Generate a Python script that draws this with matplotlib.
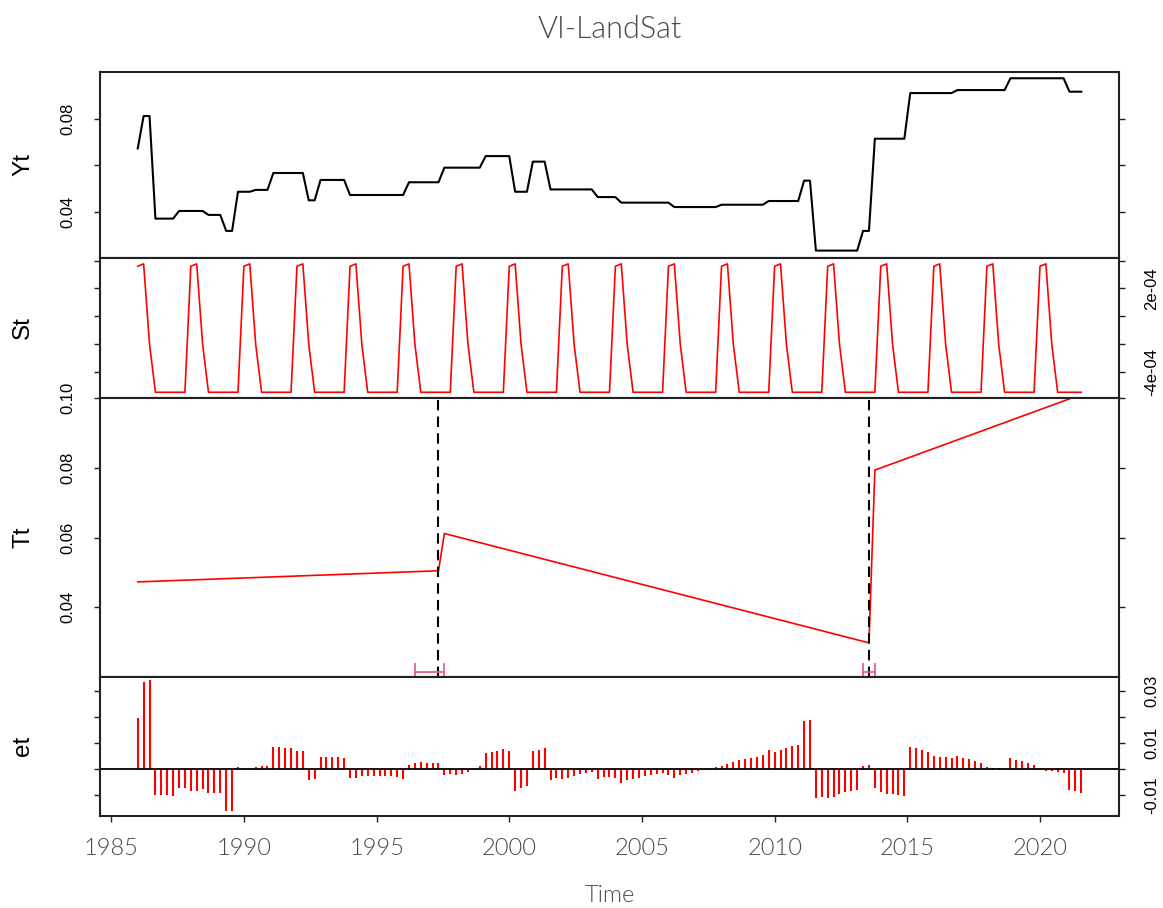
import numpy as np
import matplotlib.pyplot as plt

plt.rcParams['font.family'] = ['Liberation Sans', 'DejaVu Sans']

# regular time index: 9 observations every two years starting 1986
n_obs = 161
t_start = 1986.0
t_step = 2 / 9
time = t_start + t_step * np.arange(n_obs)

# observed series Yt, stored as step levels and their run lengths
yt_levels = [0.0673, 0.0813, 0.0370, 0.0403, 0.0386, 0.0317, 0.0486, 0.0494,
             0.0567, 0.0449, 0.0537, 0.0472, 0.0527, 0.0590, 0.0640, 0.0486,
             0.0616, 0.0496, 0.0463, 0.0439, 0.0420, 0.0430, 0.0446, 0.0534,
             0.0232, 0.0317, 0.0715, 0.0912, 0.0925, 0.0976, 0.0918]
yt_runs = [1, 2, 4, 5, 3, 2, 3, 3, 6, 2, 5, 10, 6, 7, 5, 3,
           3, 8, 4, 9, 8, 8, 6, 2, 8, 2, 6, 8, 9, 10, 3]
yt = np.repeat(yt_levels, yt_runs)

# seasonal component St: one cycle of 9 observations, repeated
st_cycle = [3.59e-4, 3.76e-4, -1.98e-4, -5.42e-4, -5.42e-4,
            -5.42e-4, -5.42e-4, -5.42e-4, -5.42e-4]
st = np.tile(st_cycle, 18)[:n_obs]

# trend Tt: end points of the fitted segments
tt_time = [1986.0, 1997.333, 1997.556, 2013.556, 2013.778, 2021.556]
tt_vals = [0.0473, 0.0505, 0.0612, 0.0298, 0.0794, 0.1011]

# detected breaks and their confidence intervals
breaks = [1997.333, 2013.556]
ci_low = [1996.444, 2013.333]
ci_high = [1997.556, 2013.778]

# remainder et
et = [0.0197, 0.0336, 0.0341, -0.0098, -0.0098, -0.0098, -0.0101, -0.0070, -0.0070,
      -0.0082, -0.0082, -0.0077, -0.0091, -0.0091, -0.0091, -0.0160, -0.0160,
      0.0010, -0.0003, -0.0003, 0.0010, 0.0011, 0.0011, 0.0084, 0.0084, 0.0083,
      0.0083, 0.0070, 0.0070, -0.0041, -0.0038, 0.0049, 0.0049, 0.0047, 0.0047,
      0.0045, -0.0032, -0.0032, -0.0026, -0.0024, -0.0026, -0.0026, -0.0027,
      -0.0027, -0.0028, -0.0038, 0.0018, 0.0024, 0.0028, 0.0026, 0.0026, 0.0026,
      -0.0022,
      -0.0017, -0.0020, -0.0019, -0.0009, 0.0006, 0.0011, 0.0064, 0.0068, 0.0072,
      0.0077, 0.0072, -0.0082, -0.0072, -0.0064, 0.0070, 0.0075, 0.0081, -0.0040,
      -0.0033, -0.0038, -0.0035, -0.0024, -0.0018, -0.0013, -0.0009, -0.0037,
      -0.0031, -0.0028, -0.0032, -0.0052, -0.0042, -0.0036, -0.0032, -0.0027,
      -0.0023, -0.0019, -0.0015, -0.0020, -0.0033, -0.0023, -0.0017, -0.0013,
      -0.0008, -0.0003, 0.0005, 0.0009, 0.0014, 0.0019, 0.0028, 0.0035, 0.0040,
      0.0045, 0.0049, 0.0055,
      0.0073, 0.0068, 0.0073, 0.0083, 0.0091, 0.0095, 0.0185, 0.0190, -0.0110,
      -0.0106, -0.0110, -0.0106, -0.0096, -0.0088, -0.0084, -0.0079, 0.0013,
      0.0017, -0.0073, -0.0088, -0.0093, -0.0095, -0.0097, -0.0102, 0.0086,
      0.0081, 0.0074, 0.0066, 0.0051, 0.0046, 0.0046, 0.0043, 0.0051, 0.0045,
      0.0038, 0.0032, 0.0026, 0.0010, 0.0006, 0.0005, 0.0004, 0.0043, 0.0037,
      0.0031, 0.0024, 0.0018, 0.0005, -0.0008, -0.0008, -0.0010, -0.0015,
      -0.0079, -0.0083, -0.0089]

year_ticks = [1985, 1990, 1995, 2000, 2005, 2010, 2015, 2020]

W_PX, H_PX = 1163, 908
fig = plt.figure(figsize=(W_PX / 100, H_PX / 100), dpi=100)

def panel(top, bottom):
    left, right = 100, 1119
    return fig.add_axes([left / W_PX, 1 - bottom / H_PX,
                         (right - left) / W_PX, (bottom - top) / H_PX])

ax_y = panel(72, 258)
ax_s = panel(258, 398)
ax_t = panel(398, 677)
ax_e = panel(677, 816)

frame_col = '#222222'
for ax in (ax_y, ax_s, ax_t, ax_e):
    ax.set_xlim(1984.578, 2022.978)
    ax.set_xticks(year_ticks)
    ax.tick_params(direction='out', length=4, width=1.0, colors=frame_col,
                   left=True, right=True, bottom=True, top=False,
                   labelbottom=False, labelsize=12, pad=14)
    for sp in ax.spines.values():
        sp.set_linewidth(1.5)
        sp.set_color(frame_col)

def y_axis(ax, ticks, labels, side):
    ax.set_yticks(ticks)
    ax.set_yticklabels(labels)
    ax.tick_params(axis='y', labelleft=(side == 'left'),
                   labelright=(side == 'right'))
    for lbl in ax.get_yticklabels(which='both'):
        lbl.set_rotation(90)
        lbl.set_va('center')
        lbl.set_color('black')

# Yt
ax_y.plot(time, yt, color='black', lw=1.5)
ax_y.set_ylim(0.0200, 0.1003)
y_axis(ax_y, [0.04, 0.06, 0.08], ['0.04', '', '0.08'], 'left')

# St
ax_s.plot(time, st, color='red', lw=1.2)
ax_s.set_ylim(-5.83e-4, 4.18e-4)
y_axis(ax_s, [-4e-4, -2e-4, 0, 2e-4, 4e-4],
       ['-4e-04', '', '', '2e-04', ''], 'right')

# Tt with breaks
ax_t.plot(tt_time, tt_vals, color='red', lw=1.2, clip_on=True)
ax_t.set_ylim(0.0200, 0.1001)
y_axis(ax_t, [0.04, 0.06, 0.08, 0.10], ['0.04', '0.06', '0.08', '0.10'], 'left')
for b in breaks:
    ax_t.axvline(b, color='black', lw=1.5, linestyle=(0, (5, 3)))
ci_y = 0.0213
ci_cap = 0.0238
ci_col = '#E8607C'
for lo, hi in zip(ci_low, ci_high):
    ax_t.plot([lo, hi], [ci_y, ci_y], color=ci_col, lw=1.3)
    ax_t.plot([lo, lo], [0.0200, ci_cap], color=ci_col, lw=1.3)
    ax_t.plot([hi, hi], [0.0200, ci_cap], color=ci_col, lw=1.3)

# et
ax_e.vlines(time, 0, et, color='red', lw=1.5)
ax_e.axhline(0, color='black', lw=1.3)
ax_e.set_ylim(-0.0179, 0.0354)
y_axis(ax_e, [-0.01, 0.0, 0.01, 0.02, 0.03],
       ['-0.01', '', '0.01', '', '0.03'], 'right')

light_font = dict(family=['Lato', 'DejaVu Sans'], fontweight=300,
                  color='#4a4a4a')

ax_e.tick_params(axis='x', labelbottom=True, pad=12)
for lbl in ax_e.get_xticklabels():
    lbl.set_family(light_font['family'])
    lbl.set_fontweight(light_font['fontweight'])
    lbl.set_fontsize(17)
    lbl.set_color(light_font['color'])

# panel names
for name, yc in (('Yt', 165), ('St', 328), ('Tt', 537), ('et', 746)):
    fig.text(23 / W_PX, 1 - yc / H_PX, name, rotation=90,
             ha='center', va='center', fontsize=17.5)

fig.text(609.5 / W_PX, 1 - 30 / H_PX, 'VI-LandSat', ha='center', va='center',
         fontsize=22, **light_font)
fig.text(609.5 / W_PX, 1 - 895 / H_PX, 'Time', ha='center', va='center',
         fontsize=17, **light_font)

fig.savefig('out.png', dpi=100)
